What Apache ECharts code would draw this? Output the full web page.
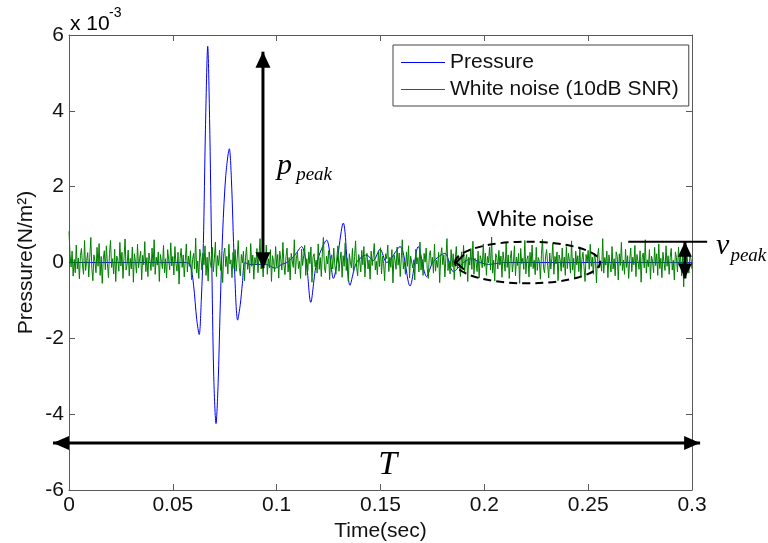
<!DOCTYPE html>
<html>
<head>
<meta charset="utf-8">
<script src="https://cdn.jsdelivr.net/npm/echarts@6/dist/echarts.min.js"></script>
<style>
  html, body { margin: 0; padding: 0; background: #fff; }
  #chart { width: 768px; height: 543px; }
</style>
</head>
<body>
<div id="chart"></div>
<script>
// time in sec, pressure in 1e-3 N/m^2
const xMin = 0, xMax = 0.3, xStep = 0.05;
const yMin = -6, yMax = 6, yStep = 2;

const pressureTime = [0, 0.05, 0.056, 0.0583, 0.0600, 0.0615, 0.0627, 0.0637, 0.0647, 0.0657,
  0.0668, 0.0677, 0.0687, 0.0697, 0.0708, 0.0718, 0.0728, 0.0740, 0.0755, 0.0772,
  0.0782, 0.0796, 0.0812, 0.0825, 0.0835, 0.0847, 0.0870, 0.095, 0.0992, 0.1024,
  0.1056, 0.1088, 0.112, 0.1144, 0.1164, 0.1193, 0.1241, 0.1273, 0.1321, 0.1353,
  0.1385, 0.1433, 0.1465, 0.1498, 0.153, 0.1594, 0.1642, 0.1682, 0.1722, 0.1754,
  0.181, 0.1851, 0.19, 0.1939, 0.198, 0.202, 0.21, 0.3];
const pressureValue = [0, 0, 0, -0.05, -0.6, -1.5, -1.9, -1.0, 0.5, 3.5,
  5.7, 3.8, 0.2, -3.0, -4.25, -3.2, -1.2, 0.8, 2.3, 3.0,
  2.2, 0, -1.52, -1.1, -0.55, 0, -0.05, -0.05, -0.15, -0.05,
  0.02, 0.2, 0.42, -0.07, -1.05, 0, 0.59, -0.42, 1.04, -0.6,
  0, 0.2, 0.05, 0.35, 0, 0.42, -0.62, 0.42, -0.37, 0.02,
  0.24, -0.24, 0, 0.1, 0, -0.05, 0, 0];

// white noise, one sample every noiseDt
const noiseDt = 0.0005;
const noiseValue = [
  0.82, 0.21, -0.12, 0.3, -0.36, 0.08, -0.27, 0.46, -0.17, 0.12, -0.43, 0.18, 0.37, -0.07, -0.31, 0.58, -0.21, 0.05, 0.26, -0.38,
  0.13, 0.66, -0.16, -0.48, 0.2, 0.03, -0.27, 0.4, -0.1, 0.5, -0.34, 0.16, -0.55, 0.09, 0.31, -0.19, 0.44, -0.03, -0.4, 0.24,
  0.58, -0.13, 0.1, -0.3, 0.35, -0.5, 0.17, 0.06, -0.23, 0.53, -0.09, 0.27, -0.42, 0.14, 0.62, -0.2, -0.04, 0.33, -0.35, 0.11,
  -0.17, 0.41, -0.52, 0.23, 0.02, -0.28, 0.48, -0.14, 0.09, 0.3, -0.46, 0.19, -0.06, 0.55, -0.24, 0.13, -0.37, 0.25, 0.04, -0.21,
  0.38, -0.11, 0.6, -0.31, 0.14, -0.07, 0.28, -0.5, 0.21, 0.03, -0.16, 0.45, -0.27, 0.1, -0.41, 0.34, 0.07, -0.19, 0.52, -0.09,
  0.16, -0.33, 0.42, -0.03, -0.23, 0.27, -0.57, 0.11, 0.37, -0.13, 0.2, -0.38, 0.06, 0.49, -0.25, 0.17, -0.1, 0.31, -0.45, 0.08,
  0.24, -0.17, 0.64, -0.28, 0.04, -0.42, 0.35, 0.13, -0.2, 0.25, -0.06, 0.44, -0.34, 0.14, -0.49, 0.28, 0.01, -0.14, 0.4, -0.24,
  0.1, 0.54, -0.37, 0.18, -0.08, 0.33, -0.21, 0.03, -0.53, 0.23, 0.38, -0.11, 0.16, -0.3, 0.48, -0.04, 0.07, -0.4, 0.27, -0.16,
  0.34, -0.23, 0.11, 0.58, -0.13, -0.35, 0.21, -0.01, 0.3, -0.48, 0.14, 0.41, -0.18, 0.06, -0.28, 0.5, -0.1, 0.2, -0.44, 0.13,
  -0.03, 0.37, -0.27, 0.17, 0.63, -0.17, 0.08, -0.38, 0.25, -0.07, 0.46, -0.31, 0.1, -0.14, 0.34, -0.5, 0.18, 0.03, -0.24, 0.42,
  -0.11, 0.21, -0.41, 0.3, 0.07, -0.2, 0.53, -0.06, -0.32, 0.16, 0.38, -0.25, 0.13, -0.46, 0.24, 0.04, -0.13, 0.6, -0.3, 0.11,
  0.27, -0.16, 0.03, -0.42, 0.35, -0.08, 0.18, 0.45, -0.34, 0.1, -0.21, 0.28, -0.03, 0.41, -0.52, 0.14, 0.23, -0.11, 0.06, -0.28,
  0.49, -0.18, 0.13, -0.37, 0.25, 0.66, -0.14, -0.27, 0.17, -0.04, 0.31, -0.45, 0.08, 0.2, -0.17, 0.38, -0.07, -0.31, 0.14, 0.44,
  -0.23, 0.06, 0.28, -0.39, 0.18, -0.1, 0.52, -0.21, 0.11, -0.49, 0.23, 0.01, -0.14, 0.37, -0.28, 0.16, 0.57, -0.13, -0.35, 0.21,
  0.04, -0.25, 0.32, -0.06, 0.42, -0.38, 0.13, 0.24, -0.17, 0.07, -0.44, 0.3, -0.08, 0.18, 0.5, -0.2, 0.03, -0.32, 0.27, -0.11,
  0.39, -0.3, 0.16, -0.03, -0.48, 0.23, 0.1, 0.46, -0.24, 0.14, -0.13, 0.34, -0.54, 0.2, 0.06, -0.18, 0.41, -0.07, 0.25, -0.37,
  0.11, 0.6, -0.17, 0.03, -0.31, 0.28, -0.1, 0.44, -0.41, 0.17, 0.21, -0.14, 0.07, -0.46, 0.35, -0.04, 0.13, -0.25, 0.54, -0.2,
  0.08, -0.34, 0.24, 0.01, 0.38, -0.16, -0.42, 0.18, 0.31, -0.08, 0.14, -0.28, 0.48, -0.23, 0.06, -0.13, 0.27, -0.53, 0.17, 0.39,
  -0.06, 0.2, -0.38, 0.13, 0.63, -0.21, 0.04, -0.3, 0.34, -0.11, 0.23, -0.45, 0.1, 0.42, -0.17, 0.16, -0.03, -0.37, 0.28, -0.14,
  0.45, -0.27, 0.07, 0.21, -0.5, 0.14, -0.07, 0.37, -0.18, 0.56, -0.31, 0.11, 0.03, -0.24, 0.3, -0.41, 0.18, 0.08, -0.14, 0.49,
  -0.1, 0.25, -0.34, 0.16, -0.01, 0.41, -0.2, 0.67, -0.28, 0.06, -0.49, 0.23, 0.13, -0.17, 0.32, -0.07, 0.17, -0.39, 0.28, 0.04,
  -0.23, 0.52, -0.13, 0.2, -0.42, 0.1, 0.31, -0.25, 0.01, 0.44, -0.35, 0.14, -0.08, 0.24, -0.55, 0.37, -0.03, 0.11, -0.18, 0.58,
  -0.3, 0.08, 0.18, -0.38, 0.27, -0.11, 0.46, -0.16, 0.06, -0.32, 0.4, -0.21, 0.13, 0.03, -0.44, 0.21, 0.61, -0.14, -0.27, 0.17,
  0.34, -0.07, -0.41, 0.25, -0.17, 0.1, 0.5, -0.31, 0.16, -0.04, 0.28, -0.48, 0.2, 0.07, -0.23, 0.38, -0.13, 0.14, -0.34, 0.42,
  -0.16, 0.24, 0.03, -0.28, 0.57, -0.2, 0.11, -0.42, 0.3, -0.06, 0.18, -0.24, 0.41, -0.37, 0.08, 0.27, -0.11, -0.5, 0.21, 0.01,
  0.32, -0.18, 0.48, -0.1, 0.14, -0.31, 0.25, 0.07, -0.54, 0.17, 0.37, -0.14, 0.04, -0.23, 0.63, -0.28, 0.13, -0.07, 0.3, -0.4,
  0.2, -0.03, -0.25, 0.42, -0.17, 0.1, -0.35, 0.28, 0.16, -0.46, 0.23, -0.08, 0.53, -0.21, 0.06, -0.31, 0.35, -0.13, 0.18, -0.42,
  0.08, 0.38, -0.24, 0.14, -0.06, 0.45, -0.37, 0.21, 0.03, -0.18, 0.31, -0.52, 0.13, 0.25, -0.14, 0.6, -0.28, 0.07, -0.11, 0.34,
  -0.44, 0.17, 0.04, -0.27, 0.4, -0.08, 0.23, -0.34, 0.49, -0.16, 0.11, -0.4, 0.27, 0.01, -0.21, 0.44, -0.1, 0.18, -0.31, 0.14,
  0.37, -0.2, 0.06, -0.46, 0.28, 0.13, -0.25, 0.41, -0.07, 0.21, -0.35, 0.17, -0.64, 0.31, -0.14, 0.25, -0.04, -0.28, 0.2, 0.1,
  -0.17
];

const seriesNames = ['Pressure', 'White noise (10dB SNR)'];

const sans = '"Liberation Sans", Arial, sans-serif';
const serif = '"Liberation Serif", "Times New Roman", serif';
const frameColor = '#5a5a5a';

function makeAxis(pos, isX, showLabel) {
  return {
    type: 'value',
    position: pos,
    min: isX ? xMin : yMin,
    max: isX ? xMax : yMax,
    interval: isX ? xStep : yStep,
    axisLine: { show: true, onZero: false, lineStyle: { color: frameColor, width: 1 } },
    axisTick: { show: true, inside: true, length: 6, lineStyle: { color: frameColor } },
    axisLabel: { show: showLabel, color: '#111', fontSize: 21, fontFamily: sans, margin: 5 },
    splitLine: { show: false }
  };
}

const xMain = makeAxis('bottom', true, true);
xMain.name = 'Time(sec)';
xMain.nameLocation = 'middle';
xMain.nameGap = 26;
xMain.nameTextStyle = { color: '#111', fontSize: 21, fontFamily: sans };

const yMain = makeAxis('left', false, true);
yMain.name = 'Pressure(N/m\u00B2)';
yMain.nameLocation = 'middle';
yMain.nameGap = 32;
yMain.nameMoveOverlap = false;
yMain.nameTextStyle = { color: '#111', fontSize: 21, fontFamily: sans };

const option = {
  animation: false,
  backgroundColor: '#fff',
  grid: { left: 69, right: 76, top: 35, bottom: 53, containLabel: false, outerBoundsMode: 'none' },
  legend: {
    left: 393,
    top: 45,
    orient: 'vertical',
    data: seriesNames.map(n => ({ name: n, icon: 'rect' })),
    itemWidth: 44,
    itemHeight: 1,
    itemGap: 6,
    padding: [7, 10, 6, 8],
    borderColor: '#444',
    borderWidth: 1,
    backgroundColor: '#fff',
    textStyle: { color: '#111', fontSize: 21, fontFamily: sans }
  },
  xAxis: [xMain, makeAxis('top', true, false)],
  yAxis: [yMain, makeAxis('right', false, false)],
  series: [
    {
      name: seriesNames[0],
      type: 'line',
      data: pressureTime.map((t, i) => [t, pressureValue[i]]),
      showSymbol: false,
      smooth: 0.3,
      color: '#0000ff',
      lineStyle: { width: 1, color: '#0000ff' }
    },
    {
      name: seriesNames[1],
      type: 'line',
      data: noiseValue.map((v, i) => [i * noiseDt, v]),
      showSymbol: false,
      color: '#008000',
      lineStyle: { width: 1, color: '#008000' }
    }
  ]
};

const chart = echarts.init(document.getElementById('chart'));
chart.setOption(option);

// annotations, placed in data space
const px = (t, v) => chart.convertToPixel({ xAxisIndex: 0, yAxisIndex: 0 }, [t, v]);

function head(tip, from, len, half) {
  const dx = tip[0] - from[0], dy = tip[1] - from[1];
  const d = Math.hypot(dx, dy);
  const ux = dx / d, uy = dy / d;
  const bx = tip[0] - ux * len, by = tip[1] - uy * len;
  return {
    type: 'polygon', z: 100,
    shape: { points: [tip, [bx - uy * half, by + ux * half], [bx + uy * half, by - ux * half]] },
    style: { fill: '#000' }
  };
}

function doubleArrow(a, b, width, len, half) {
  return [
    { type: 'line', z: 100, shape: { x1: a[0], y1: a[1], x2: b[0], y2: b[1] }, style: { stroke: '#000', lineWidth: width } },
    head(a, b, len, half),
    head(b, a, len, half)
  ];
}

function label(text, p, font, align) {
  return {
    type: 'text', z: 100, x: p[0], y: p[1],
    style: { text: text, font: font, fill: '#000', align: align || 'left', verticalAlign: 'middle' }
  };
}

const g = [];
g.push(...doubleArrow(px(0.0934, -0.15), px(0.0934, 5.56), 3, 16, 7.5));
g.push(...doubleArrow(px(-0.0077, -4.76), px(0.3039, -4.76), 3, 16, 7));
g.push(...doubleArrow(px(0.2966, 0.55), px(0.2966, -0.42), 3, 15, 7));

const vp1 = px(0.2693, 0.55), vp2 = px(0.3073, 0.55);
g.push({ type: 'line', z: 100, shape: { x1: vp1[0], y1: vp1[1], x2: vp2[0], y2: vp2[1] }, style: { stroke: '#000', lineWidth: 2 } });

const ec = px(0.2208, 0), ee = px(0.2208 + 0.0349, -0.55);
g.push({
  type: 'ellipse', z: 100,
  shape: { cx: ec[0], cy: ec[1], rx: ee[0] - ec[0], ry: ee[1] - ec[1] },
  style: { fill: 'none', stroke: '#000', lineWidth: 2, lineDash: [8, 5] }
});
const el = [ec[0] - (ee[0] - ec[0]), ec[1]];
g.push({
  type: 'polyline', z: 100,
  shape: { points: [[el[0] + 9, el[1] - 8], [el[0] + 1, el[1]], [el[0] + 9, el[1] + 7]] },
  style: { fill: 'none', stroke: '#000', lineWidth: 2 }
});

g.push(label('p', px(0.1002, 2.55), 'italic 30px ' + serif));
g.push(label('peak', px(0.1094, 2.30), 'italic 19px ' + serif));
g.push(label('v', px(0.3115, 0.44), 'italic 30px ' + serif));
g.push(label('peak', px(0.3185, 0.17), 'italic 19px ' + serif));
g.push(label('T', px(0.1535, -5.35), 'italic 34px ' + serif, 'center'));
g.push(label('White noise', px(0.1965, 1.15), '22px Lato, "Open Sans", sans-serif'));

const corner = px(xMin, yMax);
g.push(label('x 10', [corner[0] + 1, corner[1] - 11], '21px ' + sans));
g.push(label('-3', [corner[0] + 40, corner[1] - 22], '14px ' + sans));

chart.setOption({ graphic: g });
</script>
</body>
</html>
